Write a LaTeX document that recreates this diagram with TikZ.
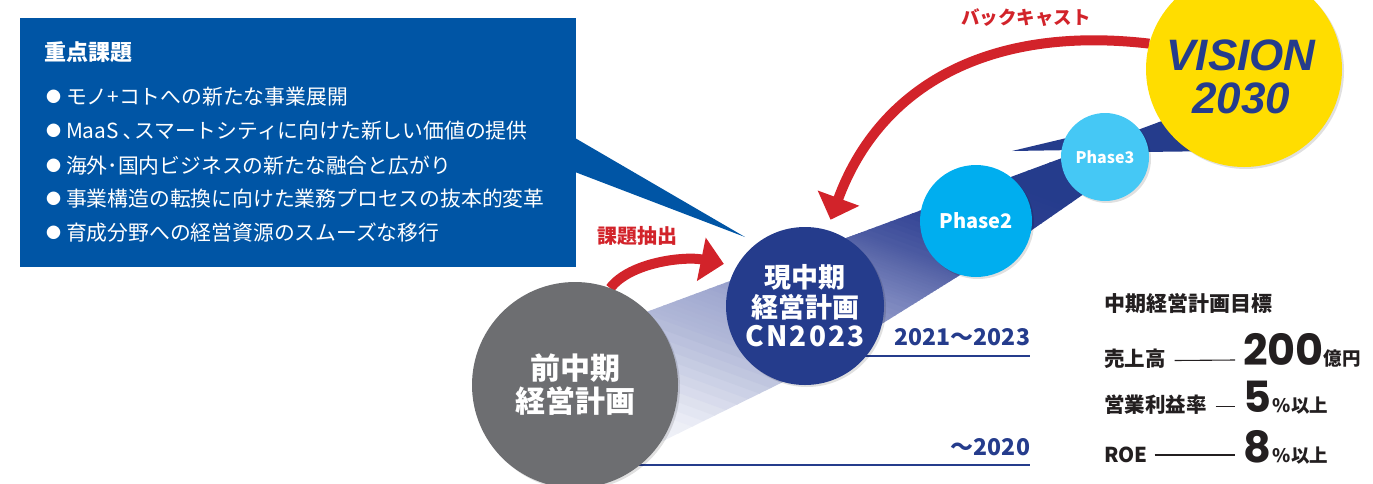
\documentclass[tikz,border=0pt]{standalone}
\usepackage{fontspec}
\setmainfont{Noto Sans CJK JP}
\newfontfamily\jp{Noto Sans CJK JP}
\newfontfamily\vis{Liberation Sans}
\newfontfamily\num{Poppins}
\usetikzlibrary{arrows.meta,shadows,calc}
\definecolor{boxblue}{RGB}{0,85,165}
\definecolor{navy}{RGB}{37,60,140}
\definecolor{grayc}{RGB}{109,110,113}
\definecolor{phtwo}{RGB}{0,174,239}
\definecolor{phthree}{RGB}{69,200,245}
\definecolor{vyellow}{RGB}{255,221,0}
\definecolor{redc}{RGB}{210,35,42}
\definecolor{darktext}{RGB}{35,31,32}
\definecolor{sA}{RGB}{252,252,254}
\definecolor{sB}{RGB}{236,238,246}
\definecolor{sC}{RGB}{178,185,216}
\definecolor{sD}{RGB}{160,168,208}
\definecolor{sE}{RGB}{120,131,188}
\definecolor{sF}{RGB}{95,108,172}
\definecolor{sG}{RGB}{75,90,162}
\definecolor{sH}{RGB}{45,62,145}
\tikzset{
  softshadow/.style={drop shadow={shadow xshift=2pt, shadow yshift=-2pt, opacity=0.12, fill=black}},
  redarc/.style={draw=redc, line width=10pt, -{Triangle[length=23pt,width=43pt]}},
  boxitem/.style={anchor=west, text=white, font=\jp\fontsize{20.8}{20.8}\selectfont},
  tlabel/.style={anchor=base west, text=darktext, font=\jp\bfseries\fontsize{20.5}{20.5}\selectfont},
  tnum/.style={anchor=base west, text=darktext, font=\num\bfseries\fontsize{43}{43}\selectfont},
  tunit/.style={anchor=base west, text=darktext, font=\jp\bfseries\fontsize{18.5}{18.5}\selectfont},
  tline/.style={draw=darktext, line width=1.1pt},
  period/.style={anchor=base east, text=navy, font=\jp\bfseries\fontsize{23}{23}\selectfont},
  redlabel/.style={text=redc, font=\jp\bfseries\fontsize{20}{20}\selectfont},
}
\newcommand{\bul}{{\fontsize{15}{15}\selectfont\raisebox{2.2pt}{●}}\hspace{5pt}}
\begin{document}
\begin{tikzpicture}[x=1pt,y=-1pt, every node/.style={inner sep=0pt, outer sep=0pt}]
\useasboundingbox (0,0) rectangle (1373,483);

% ribbon band (gradient built from thin strips)
\begin{scope}
\clip (595,331) -- (1170,118) -- (1221,151) -- (1143,152) -- (1130,162) -- (1029,232) -- (880,325) -- (781,383) -- (665,440) -- (600,472) -- cycle;
\begin{scope}[rotate around={70:(900,300)}]
\foreach \ua/\ub/\ca/\cb in {-300/-190/sA/sB, -190/-100/sB/sC, -100/-55/sC/sD, -55/0/sD/sE, 0/30/sE/sF, 30/50/sF/sG, 50/100/sG/sH, 100/150/sH/navy, 150/300/navy/navy}{
  \foreach \k in {0,...,9}{
    \pgfmathsetmacro\uu{900+\ua+(\ub-\ua)*\k/10}
    \pgfmathsetmacro\ww{(\ub-\ua)/10+0.8}
    \pgfmathtruncatemacro\pp{95-10*\k}
    \fill[fill=\ca!\pp!\cb] (\uu,-250) rectangle ++(\ww,1100);
  }
}
\end{scope}
\end{scope}
\fill[navy] (1012,151) -- (1075,136) -- (1075,150) -- cycle;

% period lines and labels
\coordinate (l1a) at (820,356);
\coordinate (l1b) at (1030,356);
\coordinate (l0a) at (590,465);
\coordinate (l0b) at (1030,465);
\draw[navy, line width=2pt] (l1a) -- (l1b);
\draw[navy, line width=2pt] (l0a) -- (l0b);
\node[period] (per1) at (1030,345) {2021～2023};
\node[period] (per0) at (1030,455) {～2020};

% callout box
\node[fill=boxblue, minimum width=556pt, minimum height=249pt, anchor=north west] (box) at (20,18) {};
\fill[boxblue] (575,138) -- (745,237) -- (575,172) -- cycle;
\node[anchor=west, text=white, font=\jp\bfseries\fontsize{22}{22}\selectfont] (title) at (44,52) {重点課題};
\node[boxitem] (i1) at (46,97) {\bul モノ+コトへの新たな事業展開};
\node[boxitem] (i2) at (46,131) {\bul MaaS\hspace{5pt}､スマートシティに向けた新しい価値の提供};
\node[boxitem] (i3) at (46,166) {\bul 海外･国内ビジネスの新たな融合と広がり};
\node[boxitem] (i4) at (46,199) {\bul 事業構造の転換に向けた業務プロセスの抜本的変革};
\node[boxitem] (i5) at (46,233) {\bul 育成分野への経営資源のスムーズな移行};

% circle outlines for anchoring the arrows
\node[circle, minimum size=206pt] (prev) at (575,385) {};
\node[circle, minimum size=158pt] (cur) at (805,306) {};
\node[circle, minimum size=196pt] (vision) at (1244,69) {};

% red arrows
\draw[redarc] (prev.70) .. controls (630,262) and (685,256) .. (cur.150) [shorten >=13pt];
\draw[redarc, shorten >=11pt] (vision.165) .. controls (990,25) and (880,85) .. (cur.74);
\node[redlabel] (kadai) at (637,236) {課題抽出};
\node[redlabel, font=\jp\bfseries\fontsize{18.5}{18.5}\selectfont] (back) at (1026,18) {バックキャスト};

% circles drawn
\node[circle, fill=grayc, minimum size=206pt, softshadow, text=white, align=center, font=\jp\bfseries\fontsize{30}{33}\selectfont] (prevc) at (575,385) {前中期\\経営計画};
\node[circle, fill=navy, minimum size=158pt, softshadow, text=white, align=center, font=\jp\bfseries\fontsize{27}{29.5}\selectfont] (curc) at (805,306) {現中期\\経営計画\\{\fontsize{28}{29.5}\selectfont\addfontfeature{LetterSpace=8}CN2023}};
\node[circle, fill=phtwo, minimum size=112pt, softshadow, text=white, font=\jp\bfseries\fontsize{20}{20}\selectfont] (ph2) at (976,221) {Phase2};
\node[circle, fill=phthree, minimum size=88pt, softshadow, text=white, font=\jp\bfseries\fontsize{16}{16}\selectfont] (ph3) at (1105,157) {Phase3};
\node[circle, fill=vyellow, minimum size=196pt, softshadow] (visc) at (1244,69) {};
\node[text=navy, align=center, font=\vis\bfseries\itshape\fontsize{44}{43}\selectfont] (vtext) at (1241,77) {VISION\\2030};

% targets
\node[anchor=west, text=darktext, font=\jp\bfseries\fontsize{21}{21}\selectfont] (tgt) at (1104,303) {中期経営計画目標};
\node[tlabel] (r1l) at (1104,366) {売上高};
\node[tnum] (r1n) at (1243,365.5) {200};
\node[tunit] (r1u) at (r1n.base east) {億円};
\draw[tline] ($(r1l.base east)+(9,-5.5)$) -- ($(r1n.base west)+(-8,-5.5)$);
\node[tlabel] (r2l) at (1104,412.5) {営業利益率};
\node[tnum] (r2n) at (1243,412.5) {5};
\node[tunit] (r2u) at ($(r2n.base east)+(2,0)$) {\%以上};
\draw[tline] ($(r2l.base east)+(9,-6)$) -- ($(r2n.base west)+(-8,-6)$);
\node[tlabel] (r3l) at (1104,462) {ROE};
\node[tnum] (r3n) at (1243,462) {8};
\node[tunit] (r3u) at ($(r3n.base east)+(2,0)$) {\%以上};
\draw[tline] ($(r3l.base east)+(7,-7)$) -- ($(r3n.base west)+(-8,-7)$);
\end{tikzpicture}
\end{document}
